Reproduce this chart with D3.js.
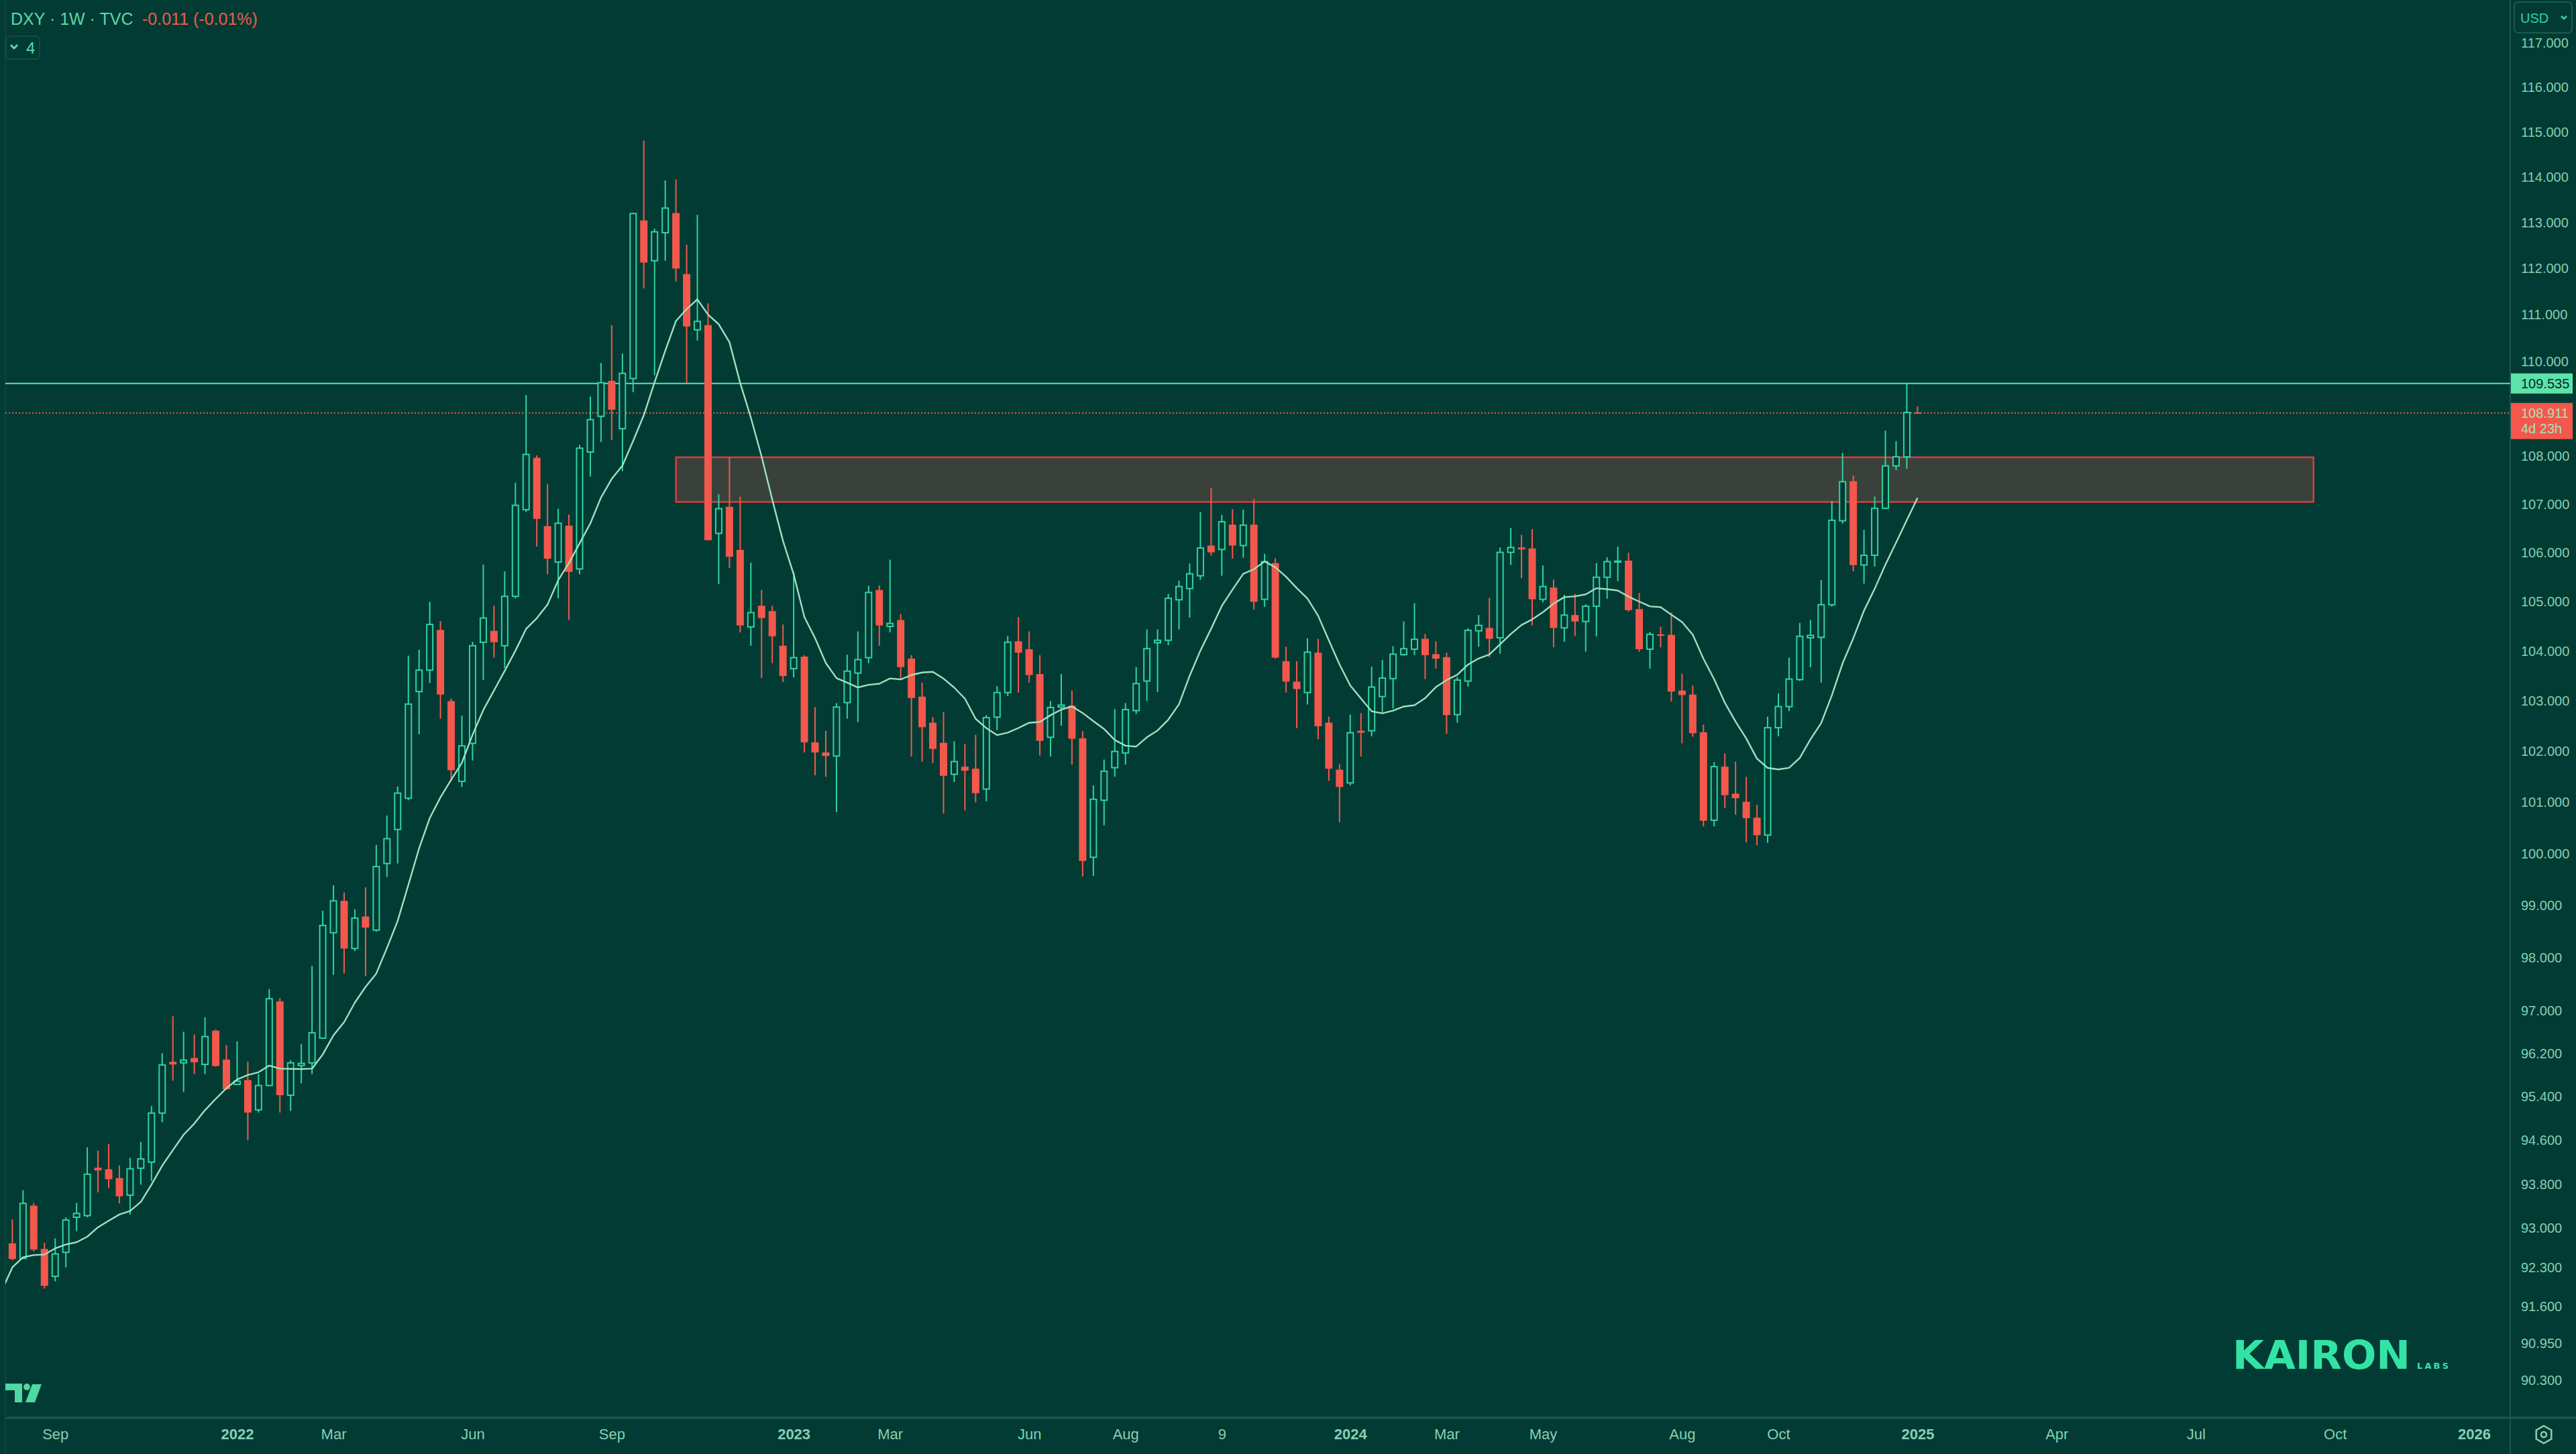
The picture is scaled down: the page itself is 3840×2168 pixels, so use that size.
<!DOCTYPE html>
<html><head><meta charset="utf-8">
<script src="https://cdn.jsdelivr.net/npm/d3@7"></script>
<style>
html,body{margin:0;padding:0;background:#023b34;overflow:hidden;}
svg{display:block;font-family:"Liberation Sans",Arial,sans-serif;}
</style></head><body>
<svg id="chart" width="3840" height="2168"></svg>
<script>
// ---------- DATA (DXY, 1W, TVC) ----------
const firstWeek = "2021-08-09";   // first visible weekly bar; each bar is one week later
const opens = [92.73,92.46,93.41,92.63,92.14,92.57,93.20,93.23,94.10,94.07,93.91,93.60,94.09,94.20,95.10,96.05,96.03,96.12,96.00,96.63,
96.09,95.63,95.71,95.16,95.61,97.18,95.43,95.98,96.03,96.49,98.48,99.09,98.18,98.79,98.53,99.81,100.47,101.08,103.19,103.62,
104.43,103.00,101.41,102.16,104.18,104.41,104.11,105.11,106.89,107.97,106.55,105.81,106.56,105.67,108.09,108.84,109.59,108.58,109.64,113.05,
112.17,112.78,113.21,111.88,110.68,110.78,106.40,106.95,106.06,104.49,104.92,104.81,104.11,103.65,103.89,102.18,101.98,101.91,102.97,103.56,
103.87,105.24,104.50,104.63,103.85,103.09,102.57,102.17,101.55,101.70,101.66,101.26,102.68,103.17,104.20,104.04,103.54,102.28,102.88,102.91,
102.26,99.93,101.04,101.68,101.97,102.81,103.40,104.17,104.22,105.04,105.27,105.53,106.15,106.07,106.58,106.15,106.58,105.05,105.79,103.80,
103.39,103.17,103.97,102.57,101.64,101.38,102.41,102.41,103.09,103.45,103.93,104.04,104.25,103.94,103.88,102.73,103.40,104.41,104.47,104.27,
106.01,106.11,106.09,105.05,105.29,104.47,104.73,104.60,104.91,105.50,105.81,105.84,104.85,104.04,104.34,104.33,103.21,103.13,102.38,100.65,
101.70,101.17,101.01,100.70,100.36,102.47,102.89,103.43,104.27,104.28,104.94,106.66,107.48,105.75,105.95,106.92,107.80,107.99,108.922];
const highs = [93.16,93.69,93.46,92.74,92.82,93.20,93.46,94.47,94.41,94.53,94.14,94.28,94.57,95.23,96.21,96.90,96.61,96.56,96.88,96.65,
96.36,96.43,96.05,95.82,97.41,97.24,96.08,96.38,97.85,98.90,99.39,99.25,98.93,99.35,100.17,100.74,101.31,103.91,104.03,105.00,
104.61,103.05,102.71,104.19,105.76,104.92,105.62,107.45,109.29,108.02,107.42,106.91,106.79,108.24,109.26,109.97,110.78,110.17,113.22,114.81,
112.87,113.93,113.95,112.52,113.17,111.25,107.21,107.98,107.16,105.80,105.24,104.92,104.54,105.61,103.92,102.88,102.41,102.96,103.93,104.40,
105.33,105.33,105.86,104.75,103.92,103.37,102.68,102.78,102.20,102.15,102.33,102.72,103.30,104.31,104.69,104.40,103.92,103.00,103.54,103.21,
102.40,101.33,101.84,102.84,102.96,103.68,104.44,104.44,105.16,105.43,105.78,106.84,107.34,106.78,106.90,106.89,107.11,105.98,105.89,104.09,
103.80,104.26,104.25,102.69,101.75,102.73,102.76,103.69,103.82,104.10,104.60,104.97,104.35,104.20,103.97,103.48,104.46,104.73,105.08,106.11,
106.51,106.37,106.49,105.74,105.45,105.14,105.16,104.95,105.79,105.91,106.13,106.00,105.18,104.39,104.49,104.78,103.55,103.31,102.53,101.79,
101.96,101.80,101.50,100.95,102.69,103.15,103.87,104.57,104.63,105.44,107.07,108.07,107.60,106.47,107.16,108.54,108.32,109.535,109.05];
const lows = [92.43,92.45,92.59,91.92,92.05,92.30,92.95,93.20,93.65,93.73,93.45,93.25,93.79,93.86,94.93,95.70,95.49,95.82,95.82,95.96,
95.53,95.62,94.60,95.11,95.60,95.11,95.14,95.65,95.82,96.48,97.68,97.71,98.13,97.66,98.50,99.55,99.81,101.04,102.34,103.36,
102.65,101.41,101.30,101.82,103.42,103.87,103.66,105.07,106.84,106.13,105.56,105.07,104.63,105.56,107.58,108.30,108.34,107.69,109.35,111.57,
109.71,112.17,111.72,109.55,110.45,106.26,105.36,105.69,104.38,104.11,103.46,103.76,103.38,103.47,101.98,101.53,101.50,100.81,102.65,102.58,
103.76,104.11,104.38,103.45,101.90,101.80,101.77,100.78,101.40,100.84,101.00,101.02,102.42,103.10,103.17,103.37,101.92,101.90,102.51,101.74,
99.56,99.57,100.55,101.50,101.74,102.74,103.00,103.18,104.12,104.44,104.68,105.45,105.94,105.53,105.88,105.90,104.84,104.90,103.85,103.17,
102.46,102.93,102.24,101.42,100.61,101.33,101.90,102.30,102.77,102.85,103.91,103.92,103.44,103.65,102.35,102.57,103.29,104.09,103.88,103.95,
105.75,105.48,104.52,104.99,104.08,104.19,104.31,103.99,104.30,105.06,105.42,104.80,103.99,103.65,104.08,102.99,102.16,102.29,100.53,100.53,
100.89,100.76,100.22,100.16,100.21,102.30,102.80,103.40,103.68,103.37,104.90,106.60,105.62,105.37,105.72,106.90,107.71,107.74,108.90];
const closes = [92.45,93.45,92.62,91.97,92.54,93.15,93.27,93.98,94.05,93.89,93.58,94.08,94.26,95.10,95.99,96.00,96.08,96.04,96.52,95.97,
95.54,95.69,95.11,95.61,97.23,95.43,96.03,96.02,96.59,98.62,99.09,98.18,98.76,98.58,99.75,100.29,101.18,102.94,103.62,104.54,
103.13,101.63,102.11,104.11,104.67,104.18,105.11,106.98,108.04,106.70,105.88,106.61,105.61,108.17,108.77,109.55,108.98,109.75,113.20,112.13,
112.80,113.32,112.00,110.75,110.86,106.26,106.91,105.92,104.52,104.78,104.67,104.30,103.50,103.87,102.18,101.98,101.91,102.88,103.60,103.83,
105.19,104.52,104.56,103.68,103.06,102.48,102.05,101.52,101.80,101.62,101.18,102.67,103.17,104.18,103.97,103.52,102.21,102.87,102.92,102.25,
99.86,101.06,101.61,102.00,102.83,103.35,104.05,104.22,105.07,105.31,105.57,106.10,106.01,106.64,106.15,106.57,105.00,105.82,103.87,103.39,
103.24,103.98,102.50,101.66,101.30,102.37,102.37,103.28,103.46,103.94,104.05,104.24,103.92,103.85,102.72,103.42,104.42,104.52,104.25,106.01,
106.11,106.07,105.05,105.31,104.47,104.73,104.60,104.91,105.50,105.82,105.83,104.83,104.04,104.34,104.31,103.19,103.12,102.36,100.64,101.70,
101.14,101.08,100.69,100.36,102.47,102.89,103.44,104.30,104.32,104.94,106.67,107.47,105.75,105.95,106.92,107.80,107.99,108.922,108.911];
// MA(10) values for bars -1..8 (before 10 closes are available)
const maLead = [91.88,92.30,92.48,92.52,92.53,92.64,92.71,92.75,92.85,93.02];
const maLength = 10;

const yTickValues = [117,116,115,114,113,112,111,110,108,107,106,105,104,103,102,101,100,99,98,97,96.2,95.4,94.6,93.8,93,92.3,91.6,90.95,90.3];
const xTickDates = ["2021-09-06","2022-01-03","2022-03-07","2022-06-06","2022-09-05","2023-01-02","2023-03-06","2023-06-05","2023-08-07","2023-10-09",
"2024-01-01","2024-03-04","2024-05-06","2024-08-05","2024-10-07","2025-01-06","2025-04-07","2025-07-07","2025-10-06","2026-01-05"];
const xTickLabels = ["Sep","2022","Mar","Jun","Sep","2023","Mar","Jun","Aug","9","2024","Mar","May","Aug","Oct","2025","Apr","Jul","Oct","2026"];

const resistanceLevel = 109.535;
const lastPrice = 108.911;
const countdown = "4d 23h";
const zoneLow = 107.05, zoneHigh = 107.98;
const zoneStart = "2022-10-17", zoneEnd = "2025-09-22";
const headerTitle = "DXY · 1W · TVC";
const headerChange = "-0.011 (-0.01%)";

// ---------- STYLE ----------
const C = {
  bg:"#023b34", up:"#2fd3a2", down:"#f4574b", ma:"#9fe0c0", text:"#86cfb2",
  line:"#5be3aa", grid:"#1b5a4c", zoneFill:"#3a413b", zoneStroke:"#e2393c", brand:"#33e3a5"
};
const W=3840, H=2168, plotL=8, plotR=3742, plotB=2114;

const parse = d3.utcParse("%Y-%m-%d");
const t0 = parse(firstWeek);
const bars = closes.map((c,i)=>({date:d3.utcDay.offset(t0,7*i), o:opens[i], h:highs[i], l:lows[i], c}));
const nBars = bars.length;

const x = d3.scaleUtc().domain([t0, bars[nBars-1].date]).range([18.4, 18.4+(nBars-1)*15.955]);
const y = d3.scaleLog().domain([89.65,117.98]).range([plotB,0]);

const svg = d3.select("#chart");
svg.append("rect").attr("width",W).attr("height",H).attr("fill",C.bg);
const defs = svg.append("defs");
defs.append("clipPath").attr("id","plotClip").append("rect").attr("x",plotL).attr("y",0).attr("width",plotR-plotL).attr("height",plotB);
defs.append("clipPath").attr("id","axisClip").append("rect").attr("x",plotR).attr("y",54).attr("width",W-plotR).attr("height",plotB-54);

// pane borders
svg.append("line").attr("x1",plotR).attr("x2",plotR).attr("y1",0).attr("y2",H).attr("stroke",C.grid).attr("stroke-width",2);
svg.append("line").attr("x1",plotL).attr("x2",W).attr("y1",plotB).attr("y2",plotB).attr("stroke",C.grid).attr("stroke-width",3);
svg.append("line").attr("x1",plotL).attr("x2",plotL).attr("y1",0).attr("y2",H).attr("stroke","#0a463d").attr("stroke-width",2);

const plot = svg.append("g").attr("clip-path","url(#plotClip)");

// zone
plot.append("rect")
  .attr("x",x(parse(zoneStart))).attr("width",x(parse(zoneEnd))-x(parse(zoneStart)))
  .attr("y",y(zoneHigh)).attr("height",y(zoneLow)-y(zoneHigh))
  .attr("fill",C.zoneFill).attr("stroke",C.zoneStroke).attr("stroke-width",2.5);

// resistance + last price lines
plot.append("line").attr("x1",plotL).attr("x2",plotR).attr("y1",y(resistanceLevel)).attr("y2",y(resistanceLevel))
  .attr("stroke",C.line).attr("stroke-width",2.2);
plot.append("line").attr("x1",plotL).attr("x2",plotR).attr("y1",y(lastPrice)).attr("y2",y(lastPrice))
  .attr("stroke",C.down).attr("stroke-width",2).attr("stroke-dasharray","2,3");

// candles
const bw = 11;
const cg = plot.append("g");
const up = bars.filter(d=>d.c>=d.o), dn = bars.filter(d=>d.c<d.o);
cg.selectAll(".wu1").data(up).join("line").attr("x1",d=>x(d.date)).attr("x2",d=>x(d.date))
  .attr("y1",d=>y(d.h)).attr("y2",d=>y(d.c)).attr("stroke",C.up).attr("stroke-width",2);
cg.selectAll(".wu2").data(up).join("line").attr("x1",d=>x(d.date)).attr("x2",d=>x(d.date))
  .attr("y1",d=>y(d.o)).attr("y2",d=>y(d.l)).attr("stroke",C.up).attr("stroke-width",2);
cg.selectAll(".bu").data(up).join("rect").attr("x",d=>x(d.date)-bw/2+1).attr("width",bw-2)
  .attr("y",d=>y(d.c)).attr("height",d=>Math.max(1,y(d.o)-y(d.c)))
  .attr("fill",C.bg).attr("stroke",C.up).attr("stroke-width",2);
cg.selectAll(".wd").data(dn).join("line").attr("x1",d=>x(d.date)).attr("x2",d=>x(d.date))
  .attr("y1",d=>y(d.h)).attr("y2",d=>y(d.l)).attr("stroke",C.down).attr("stroke-width",2);
cg.selectAll(".bd").data(dn).join("rect").attr("x",d=>x(d.date)-bw/2).attr("width",bw)
  .attr("y",d=>y(d.o)).attr("height",d=>Math.max(2,y(d.c)-y(d.o))).attr("fill",C.down);

// MA(10)
const maPts = [{date:d3.utcDay.offset(t0,-7), v:maLead[0]}].concat(bars.map((d,i)=>({date:d.date,
  v: i < maLength-1 ? maLead[i+1] : d3.mean(closes.slice(i-maLength+1,i+1))})));
plot.append("path").datum(maPts).attr("fill","none").attr("stroke",C.ma).attr("stroke-width",2.4)
  .attr("stroke-linejoin","round").attr("d",d3.line().x(d=>x(d.date)).y(d=>y(d.v)));

// Y axis
const yAxis = svg.append("g").attr("clip-path","url(#axisClip)").append("g").attr("transform",`translate(${plotR},0)`)
  .call(d3.axisRight(y).tickValues(yTickValues).tickSize(0).tickPadding(16).tickFormat(d3.format(".3f")));
yAxis.select(".domain").remove();
yAxis.selectAll("text").attr("fill",C.text).attr("font-size",20).attr("font-family","Liberation Sans, Arial, sans-serif");

// X axis
const xAxis = svg.append("g").attr("transform",`translate(0,${plotB})`)
  .call(d3.axisBottom(x).tickValues(xTickDates.map(parse)).tickSize(0).tickPadding(16).tickFormat((d,i)=>xTickLabels[i]));
xAxis.select(".domain").remove();
xAxis.selectAll("text").attr("fill",C.text).attr("font-size",22).attr("font-family","Liberation Sans, Arial, sans-serif")
  .attr("font-weight",(d,i)=>/^\d{4}$/.test(xTickLabels[i])?"bold":"normal");

// price labels on axis
const gl = svg.append("g");
gl.append("rect").attr("x",plotR+1).attr("y",y(resistanceLevel)-15).attr("width",92).attr("height",30).attr("fill",C.line);
gl.append("text").attr("x",plotR+16).attr("y",y(resistanceLevel)).attr("dy","0.35em").attr("font-size",20).attr("fill","#06291f").text(resistanceLevel.toFixed(3));
gl.append("rect").attr("x",plotR+1).attr("y",y(lastPrice)-15).attr("width",92).attr("height",54).attr("fill",C.down);
gl.append("text").attr("x",plotR+16).attr("y",y(lastPrice)).attr("dy","0.35em").attr("font-size",20).attr("fill","#a8e2bf").text(lastPrice.toFixed(3));
gl.append("text").attr("x",plotR+16).attr("y",y(lastPrice)+23).attr("dy","0.35em").attr("font-size",20).attr("fill","#a8e2bf").text(countdown);

// USD box
svg.append("rect").attr("x",3748).attr("y",3).attr("width",86).attr("height",46).attr("rx",6).attr("fill",C.bg).attr("stroke",C.grid).attr("stroke-width",2);
svg.append("text").attr("x",3757).attr("y",27).attr("dy","0.35em").attr("font-size",20).attr("fill",C.up).text("USD");
svg.append("path").attr("d","M3818,24 L3822,28 L3826,24").attr("fill","none").attr("stroke",C.up).attr("stroke-width",2.5);

// header
svg.append("text").attr("x",16).attr("y",28).attr("dy","0.35em").attr("font-size",25).attr("fill","#5fd6a6").text(headerTitle);
svg.append("text").attr("x",212).attr("y",28).attr("dy","0.35em").attr("font-size",25).attr("fill","#ef5a4e").text(headerChange);
svg.append("rect").attr("x",9).attr("y",54).attr("width",50).attr("height",34).attr("rx",5).attr("fill","none").attr("stroke","#134d42").attr("stroke-width",2);
svg.append("path").attr("d","M16,67 L21,72 L26,67").attr("fill","none").attr("stroke","#5fd6a6").attr("stroke-width",3);
svg.append("text").attr("x",39).attr("y",72).attr("dy","0.35em").attr("font-size",24).attr("fill","#5fd6a6").text("4");

// TradingView logo
const lg = svg.append("g").attr("fill","#4fd8a0");
lg.append("path").attr("d","M8,2063 H33 V2091 H22 V2073 H8 Z");
lg.append("circle").attr("cx",40).attr("cy",2068).attr("r",5);
lg.append("path").attr("d","M48,2064 H62 L52,2091 H38 Z");

// settings icon
svg.append("path").attr("d",d3.range(7).map(k=>{const a=Math.PI/3*k - Math.PI/2; return (k?"L":"M")+(3792+13*Math.cos(a)).toFixed(1)+","+(2139+13*Math.sin(a)).toFixed(1);}).join("")+"Z")
  .attr("fill","none").attr("stroke",C.text).attr("stroke-width",2.5);
svg.append("circle").attr("cx",3792).attr("cy",2139).attr("r",4).attr("fill","none").attr("stroke",C.text).attr("stroke-width",2.5);

// brand
svg.append("text").attr("x",3328).attr("y",2041).attr("font-size",58).attr("font-weight","bold")
  .attr("font-family","DejaVu Sans, Liberation Sans, sans-serif").attr("fill",C.brand).attr("textLength",265).attr("lengthAdjust","spacingAndGlyphs").text("KAIRON");
svg.append("text").attr("x",3603).attr("y",2041).attr("font-size",13).attr("font-weight","bold")
  .attr("font-family","DejaVu Sans, Liberation Sans, sans-serif").attr("fill",C.brand).attr("textLength",47).attr("lengthAdjust","spacing").text("LABS");
</script>
</body></html>
